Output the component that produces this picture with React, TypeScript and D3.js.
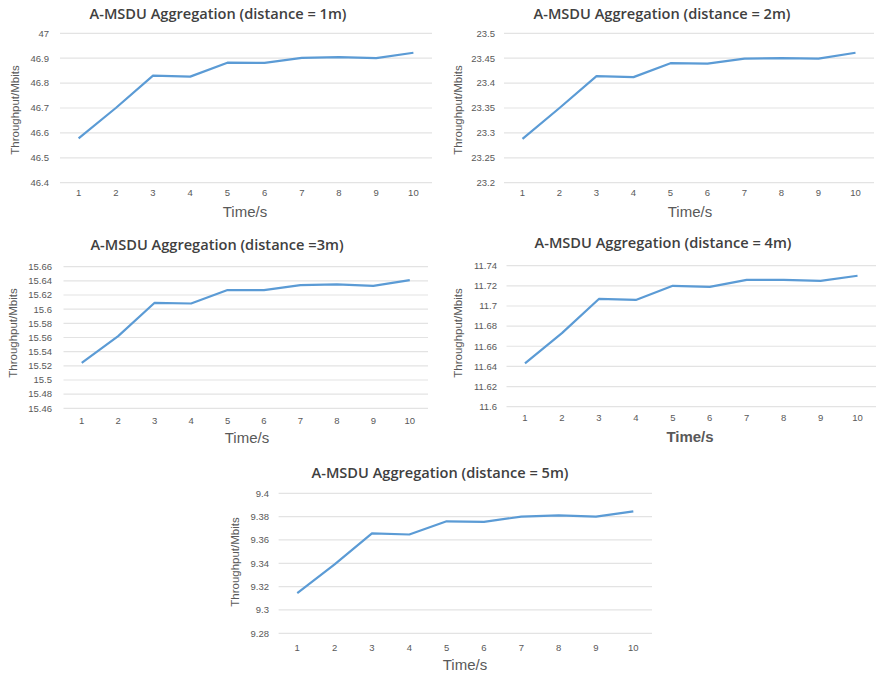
import React from "react";
import * as d3 from "d3";

const times = [1, 2, 3, 4, 5, 6, 7, 8, 9, 10];

const titles = [
  "A-MSDU Aggregation (distance = 1m)",
  "A-MSDU Aggregation (distance = 2m)",
  "A-MSDU Aggregation (distance =3m)",
  "A-MSDU Aggregation (distance = 4m)",
  "A-MSDU Aggregation (distance = 5m)",
];

const series1m = [46.578, 46.7, 46.83, 46.826, 46.882, 46.881, 46.901, 46.904, 46.9, 46.922];
const series2m = [23.288, 23.35, 23.414, 23.412, 23.44, 23.439, 23.449, 23.45, 23.449, 23.461];
const series3m = [15.524, 15.562, 15.609, 15.608, 15.627, 15.627, 15.634, 15.635, 15.633, 15.641];
const series4m = [11.643, 11.673, 11.707, 11.706, 11.72, 11.719, 11.726, 11.726, 11.725, 11.73];
const series5m = [9.3145, 9.339, 9.3656, 9.3647, 9.376, 9.3755, 9.38, 9.381, 9.38, 9.3845];

const ticks1m = [46.4, 46.5, 46.6, 46.7, 46.8, 46.9, 47];
const ticks2m = [23.2, 23.25, 23.3, 23.35, 23.4, 23.45, 23.5];
const ticks3m = [15.46, 15.48, 15.5, 15.52, 15.54, 15.56, 15.58, 15.6, 15.62, 15.64, 15.66];
const ticks4m = [11.6, 11.62, 11.64, 11.66, 11.68, 11.7, 11.72, 11.74];
const ticks5m = [9.28, 9.3, 9.32, 9.34, 9.36, 9.38, 9.4];

const yLabel = "Throughput/Mbits";
const xLabel = "Time/s";

type Layout = {
  x0: number; x1: number; yTop: number; yBot: number;
  titleX: number; titleY: number; tickY: number;
  xLabX: number; xLabY: number; yLabX: number; yLabY: number; yTickX: number;
  xBold?: boolean;
};

const layouts: Layout[] = [
  { x0: 60, x1: 432, yTop: 33.3, yBot: 182.7, titleX: 218, titleY: 19, tickY: 196, xLabX: 245, xLabY: 217, yLabX: 15, yLabY: 110, yTickX: 49 },
  { x0: 504, x1: 874, yTop: 33.3, yBot: 182.7, titleX: 662, titleY: 19, tickY: 196, xLabX: 690, xLabY: 217, yLabX: 458, yLabY: 110, yTickX: 495 },
  { x0: 63.5, x1: 428, yTop: 266.7, yBot: 408.3, titleX: 217, titleY: 250, tickY: 424, xLabX: 247, xLabY: 443, yLabX: 13, yLabY: 333, yTickX: 52 },
  { x0: 506.5, x1: 876, yTop: 265.7, yBot: 406.7, titleX: 663, titleY: 248, tickY: 421, xLabX: 690, xLabY: 442, yLabX: 458, yLabY: 333, yTickX: 497, xBold: true },
  { x0: 278.6, x1: 652, yTop: 493.3, yBot: 633.3, titleX: 440, titleY: 478, tickY: 651, xLabX: 465, xLabY: 670, yLabX: 235, yLabY: 562, yTickX: 269 },
];

const allSeries = [series1m, series2m, series3m, series4m, series5m];
const allTicks = [ticks1m, ticks2m, ticks3m, ticks4m, ticks5m];

const FONT = "'Liberation Sans', Arial, sans-serif";
const TFONT = "'Open Sans', 'Liberation Sans', sans-serif";
const TEXT = "#595959";

function Panel({ title, values, ticks, L }: { title: string; values: number[]; ticks: number[]; L: Layout }) {
  const x = d3.scaleBand<number>().domain(times).range([L.x0, L.x1]);
  const y = d3.scaleLinear().domain([ticks[0], ticks[ticks.length - 1]]).range([L.yBot, L.yTop]);
  const line = d3
    .line<number>()
    .x((_, i) => (x(times[i]) as number) + x.bandwidth() / 2)
    .y((d) => y(d));
  const fmt = (v: number) => String(+v.toFixed(2));
  return (
    <g>
      <text x={L.titleX} y={L.titleY} textAnchor="middle" fontFamily={TFONT} fontSize={14.6} fontWeight={600} fill="#404040">
        {title}
      </text>
      {ticks.map((t) => (
        <g key={t}>
          <line x1={L.x0} x2={L.x1} y1={y(t)} y2={y(t)} stroke="#e3e3e3" strokeWidth={1.2} />
          <text x={L.yTickX} y={y(t)} dy="0.35em" textAnchor="end" fontFamily={FONT} fontSize={9.5} fill={TEXT}>
            {fmt(t)}
          </text>
        </g>
      ))}
      {times.map((t) => (
        <text key={t} x={(x(t) as number) + x.bandwidth() / 2} y={L.tickY} textAnchor="middle" fontFamily={FONT} fontSize={9.5} fill={TEXT}>
          {t}
        </text>
      ))}
      <path d={line(values) || ""} fill="none" stroke="#5B9BD5" strokeWidth={2.2} strokeLinejoin="round" />
      <text x={L.xLabX} y={L.xLabY} textAnchor="middle" fontFamily={FONT} fontSize={15} fontWeight={L.xBold ? 700 : 400} fill={TEXT}>
        {xLabel}
      </text>
      <text
        transform={`translate(${L.yLabX},${L.yLabY}) rotate(-90)`}
        textAnchor="middle"
        dy="0.35em"
        fontFamily={FONT}
        fontSize={11.5}
        fill={TEXT}
      >
        {yLabel}
      </text>
    </g>
  );
}

export default function App() {
  return (
    <svg width={876} height={675} style={{ position: "absolute", left: 0, top: 0, background: "#fff" }}>
      <rect width={876} height={675} fill="#fff" />
      {layouts.map((L, i) => (
        <Panel key={i} title={titles[i]} values={allSeries[i]} ticks={allTicks[i]} L={L} />
      ))}
    </svg>
  );
}
